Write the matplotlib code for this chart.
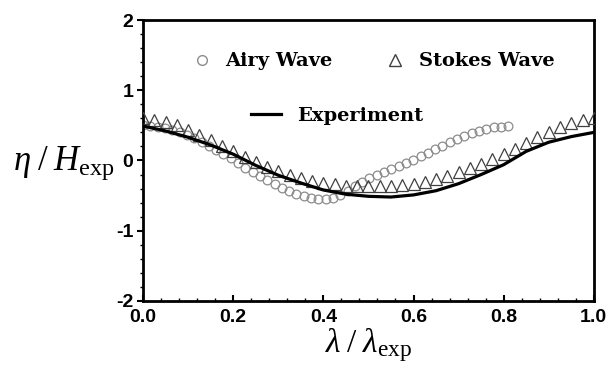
import matplotlib
matplotlib.use("Agg")
import matplotlib.pyplot as plt
from matplotlib.lines import Line2D
from matplotlib.ticker import MultipleLocator

plt.rcParams['mathtext.fontset'] = 'custom'
plt.rcParams['mathtext.rm'] = 'Liberation Serif'
plt.rcParams['mathtext.it'] = 'Liberation Serif:italic'

# Experiment (solid line)
exp_x = [0.00, 0.05, 0.10, 0.15, 0.20, 0.25, 0.30, 0.35, 0.40, 0.45, 0.50,
         0.55, 0.60, 0.65, 0.70, 0.75, 0.80, 0.85, 0.90, 0.95, 1.00]
exp_y = [0.49, 0.42, 0.33, 0.22, 0.09, -0.07, -0.21, -0.32, -0.42, -0.48, -0.51,
         -0.52, -0.49, -0.43, -0.33, -0.20, -0.06, 0.13, 0.26, 0.34, 0.40]

# Stokes wave (triangles)
stokes_x = [i * 0.025 for i in range(41)]
stokes_y = [0.60, 0.58, 0.55, 0.50, 0.44, 0.37, 0.29, 0.21, 0.13, 0.05,
            -0.02, -0.09, -0.15, -0.20, -0.25, -0.29, -0.32, -0.34, -0.36, -0.37,
            -0.37, -0.37, -0.36, -0.35, -0.33, -0.30, -0.27, -0.22, -0.17, -0.11,
            -0.05, 0.02, 0.09, 0.17, 0.25, 0.33, 0.40, 0.47, 0.53, 0.57, 0.60]

# Airy wave (circles)
airy_x = [i * 0.0162 for i in range(51)]
airy_y = [0.50, 0.49, 0.48, 0.46, 0.44, 0.41, 0.37, 0.32, 0.27, 0.21,
          0.15, 0.09, 0.03, -0.04, -0.10, -0.16, -0.22, -0.28, -0.34, -0.39,
          -0.44, -0.48, -0.51, -0.53, -0.55, -0.55, -0.53, -0.49, -0.43, -0.36,
          -0.30, -0.25, -0.20, -0.16, -0.12, -0.08, -0.04, 0.01, 0.06, 0.11,
          0.16, 0.21, 0.26, 0.31, 0.35, 0.39, 0.42, 0.45, 0.47, 0.48, 0.49]

x_ticks = [0.0, 0.2, 0.4, 0.6, 0.8, 1.0]
y_ticks = [-2, -1, 0, 1, 2]

fig = plt.figure(figsize=(6.09, 3.81), dpi=100)
ax = fig.add_axes([0.235, 0.21, 0.74, 0.7375])

ax.plot(airy_x, airy_y, linestyle='none', marker='o', markersize=6.3,
        markerfacecolor='none', markeredgecolor='#8c8c8c', markeredgewidth=0.9, zorder=2)
ax.plot(stokes_x, stokes_y, linestyle='none', marker='^', markersize=9,
        markerfacecolor='none', markeredgecolor='#404040', markeredgewidth=0.9, zorder=3)
ax.plot(exp_x, exp_y, color='black', linewidth=2.3, zorder=4, solid_joinstyle='round')

ax.set_xlim(0, 1)
ax.set_ylim(-2, 2)
ax.set_xticks(x_ticks)
ax.set_xticklabels([f"{t:.1f}" for t in x_ticks])
ax.set_yticks(y_ticks)
ax.set_yticklabels([str(t) for t in y_ticks])
ax.xaxis.set_minor_locator(MultipleLocator(0.04))
ax.yaxis.set_minor_locator(MultipleLocator(0.2))
ax.tick_params(axis='x', which='major', direction='in', length=4, width=1.5, pad=6)
ax.tick_params(axis='x', which='minor', direction='in', length=2, width=1)
ax.tick_params(axis='y', which='major', direction='out', length=4, width=1.5, pad=3)
ax.tick_params(axis='y', which='minor', direction='out', length=2, width=1)
for lab in ax.get_xticklabels() + ax.get_yticklabels():
    lab.set_fontfamily('Liberation Sans')
    lab.set_fontweight('bold')
    lab.set_fontsize(14)
for s in ax.spines.values():
    s.set_linewidth(2)

ax.set_xlabel(r'$\lambda\;/\;\lambda_{\rm exp}$', fontsize=24, labelpad=0)
ax.set_ylabel(r'$\eta\;/\;H_{\rm exp}$', fontsize=25, rotation=0, va='center', ha='center')
ax.yaxis.set_label_coords(-0.176, 0.49)

h_airy = Line2D([], [], linestyle='none', marker='o', markersize=7,
                markerfacecolor='none', markeredgecolor='#8c8c8c', markeredgewidth=1.0)
h_stokes = Line2D([], [], linestyle='none', marker='^', markersize=9,
                  markerfacecolor='none', markeredgecolor='#404040', markeredgewidth=1.0)
h_exp = Line2D([], [], color='black', linewidth=2.3)

prop = {'family': 'DejaVu Serif', 'weight': 'bold', 'size': 14}
leg1 = ax.legend([h_airy, h_stokes], ['Airy Wave', 'Stokes Wave'], ncol=2, frameon=False,
                 prop=prop, loc='center', bbox_to_anchor=(0.505, 0.853),
                 handlelength=1.5, handletextpad=0.45, columnspacing=2.5)
ax.add_artist(leg1)
ax.legend([h_exp], ['Experiment'], frameon=False, prop=prop, loc='center',
          bbox_to_anchor=(0.43, 0.66), handlelength=1.55, handletextpad=0.85)

fig.savefig('out.png', dpi=100)
